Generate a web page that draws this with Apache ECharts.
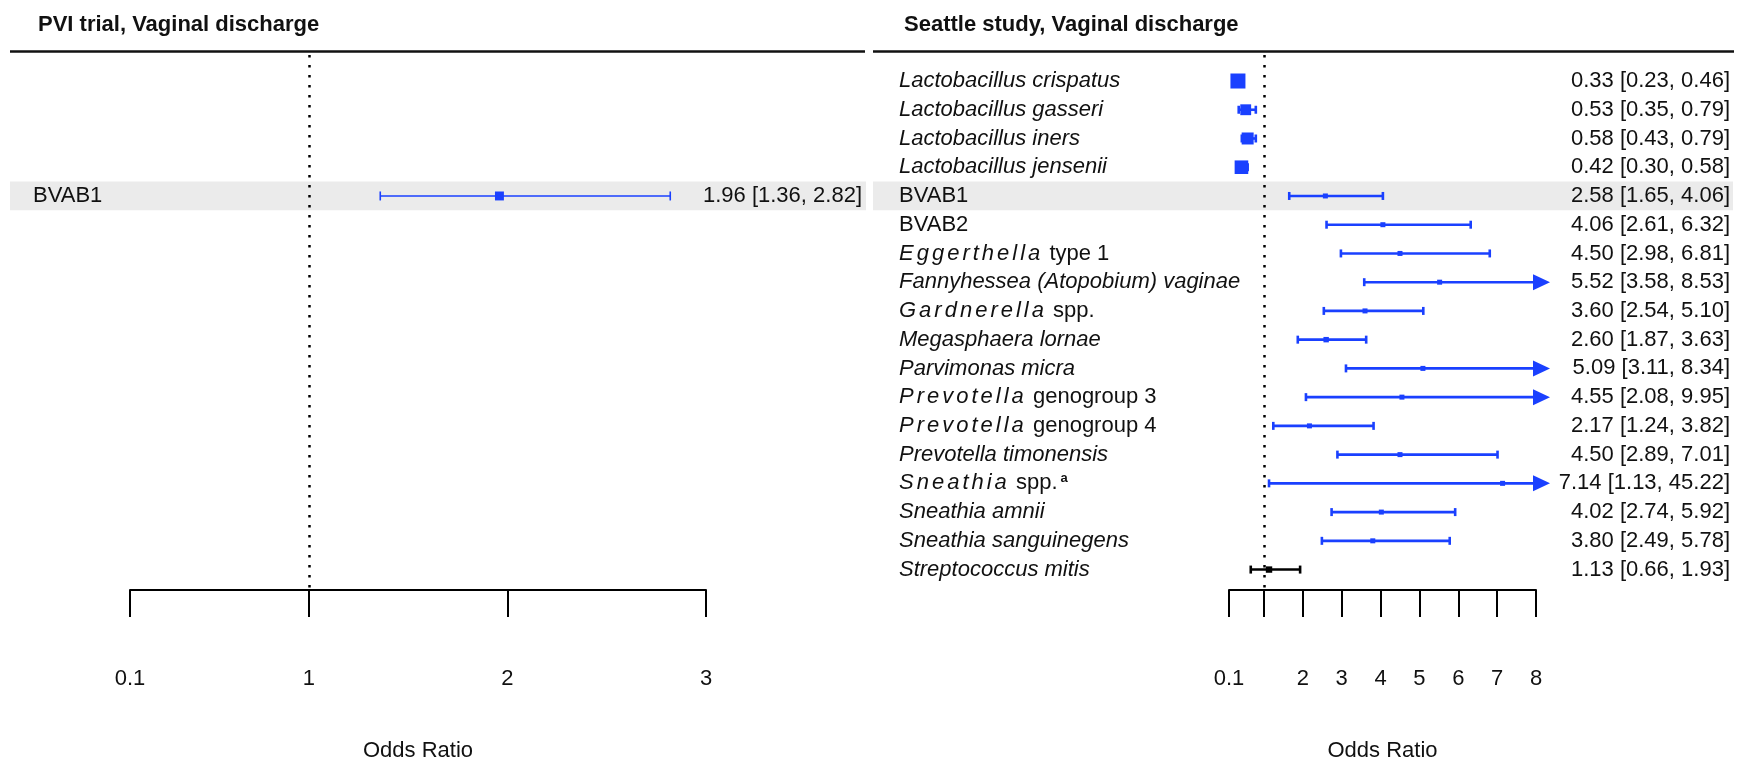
<!DOCTYPE html>
<html>
<head>
<meta charset="utf-8">
<script src="https://cdn.jsdelivr.net/npm/echarts@6/dist/echarts.min.js"></script>
<style>
html,body{margin:0;padding:0;background:#ffffff;}
#chart{width:1745px;height:760px;}
</style>
</head>
<body>
<div id="chart"></div>
<script>
// ---------------- DATA ----------------
const pviTitle = 'PVI trial, Vaginal discharge';
const seattleTitle = 'Seattle study, Vaginal discharge';
const axisTitle = 'Odds Ratio';

const pviCategories = ['BVAB1'];
const pviFormat = ['plain'];
const pviNotes = [''];
const pviOR = [1.96];
const pviLower = [1.36];
const pviUpper = [2.82];
const pviRows = [4];   // row position, aligned with the Seattle panel

const seattleCategories = [
  'Lactobacillus crispatus', 'Lactobacillus gasseri', 'Lactobacillus iners', 'Lactobacillus jensenii',
  'BVAB1', 'BVAB2', 'Eggerthella type 1', 'Fannyhessea (Atopobium) vaginae', 'Gardnerella spp.',
  'Megasphaera lornae', 'Parvimonas micra', 'Prevotella genogroup 3', 'Prevotella genogroup 4',
  'Prevotella timonensis', 'Sneathia spp.', 'Sneathia amnii', 'Sneathia sanguinegens', 'Streptococcus mitis'
];
const seattleFormat = [
  'italic', 'italic', 'italic', 'italic', 'plain', 'plain', 'genus', 'italic', 'genus',
  'italic', 'italic', 'genus', 'genus', 'italic', 'genus', 'italic', 'italic', 'italic'
];
const seattleNotes = ['', '', '', '', '', '', '', '', '', '', '', '', '', '', 'a', '', '', ''];
const seattleOR    = [0.33, 0.53, 0.58, 0.42, 2.58, 4.06, 4.50, 5.52, 3.60, 2.60, 5.09, 4.55, 2.17, 4.50, 7.14, 4.02, 3.80, 1.13];
const seattleLower = [0.23, 0.35, 0.43, 0.30, 1.65, 2.61, 2.98, 3.58, 2.54, 1.87, 3.11, 2.08, 1.24, 2.89, 1.13, 2.74, 2.49, 0.66];
const seattleUpper = [0.46, 0.79, 0.79, 0.58, 4.06, 6.32, 6.81, 8.53, 5.10, 3.63, 8.34, 9.95, 3.82, 7.01, 45.22, 5.92, 5.78, 1.93];
const seattleRows  = [0, 1, 2, 3, 4, 5, 6, 7, 8, 9, 10, 11, 12, 13, 14, 15, 16, 17];

const sharedRowName = 'BVAB1';

const pviTicks = [0.1, 1, 2, 3];
const pviTickLabels = ['0.1', '1', '2', '3'];
const seattleTicks = [0.1, 1, 2, 3, 4, 5, 6, 7, 8];
const seattleTickLabels = ['0.1', '', '2', '3', '4', '5', '6', '7', '8'];

// ---------------- STYLE / LAYOUT ----------------
const FONT = '"Liberation Sans", Arial, Helvetica, sans-serif';
const FS = 22;
const TXT = '#111111';
const BLUE = '#1a40ff';
const BAND = '#ebebeb';

const panels = [
  {
    cats: pviCategories, fmt: pviFormat, notes: pviNotes, or: pviOR, lo: pviLower, hi: pviUpper, rows: pviRows,
    ticks: pviTicks, tickLabels: pviTickLabels, min: 0.1, max: 3,
    gridLeft: 130, gridRight: 1745 - 706,
    textX: 33, valueX: 862, bandX0: 10, bandX1: 866,
    lineW: 1.6, capH: 9, boxK: 10.8
  },
  {
    cats: seattleCategories, fmt: seattleFormat, notes: seattleNotes, or: seattleOR, lo: seattleLower, hi: seattleUpper, rows: seattleRows,
    ticks: seattleTicks, tickLabels: seattleTickLabels, min: 0.1, max: 8,
    gridLeft: 1229, gridRight: 1745 - 1536,
    textX: 899, valueX: 1730, bandX0: 873, bandX1: 1733,
    lineW: 2.6, capH: 8, boxK: 7.2
  }
];

const ROW_MIN = -0.905, ROW_MAX = 17.711;

const rich = {
  r: { fontFamily: FONT, fontSize: FS, color: TXT },
  i: { fontFamily: FONT, fontSize: FS, color: TXT, fontStyle: 'italic' },
  g: { fontFamily: FONT, fontSize: FS, color: TXT, fontStyle: 'italic', padding: [0, 3.0, 0, 0] },
  sup: { fontFamily: FONT, fontSize: 13, color: TXT, fontWeight: 'bold', verticalAlign: 'top', padding: [0, 0, 0, 3] }
};

function labelMarkup(name, fmt, note) {
  let s;
  if (fmt === 'italic') s = '{i|' + name + '}';
  else if (fmt === 'plain') s = '{r|' + name + '}';
  else {
    const sp = name.indexOf(' ');
    const genus = name.slice(0, sp);
    s = genus.split('').map(c => '{g|' + c + '}').join('') + '{r|' + name.slice(sp) + '}';
  }
  if (note) s += '{sup|' + note + '}';
  return s;
}

function fmt2(v) { return v.toFixed(2); }

function makeRender(p) {
  return function (params, api) {
    const i = params.dataIndex;
    const or = p.or[i], lo = p.lo[i], hi = p.hi[i], row = p.rows[i];
    const y = api.coord([p.min, row])[1];
    const xLo = api.coord([Math.max(lo, p.min), row])[0];
    const truncated = hi > p.max;
    const xMax = api.coord([p.max, row])[0];
    const xHi = truncated ? xMax - 3 : api.coord([hi, row])[0];
    const xOr = api.coord([or, row])[0];
    const col = (lo <= 1 && hi >= 1) ? '#000000' : BLUE;
    const box = Math.max(5, p.boxK * Math.sqrt(1 / (hi - lo)));
    const children = [];
    children.push({
      type: 'text', x: p.textX, y: y,
      style: { text: labelMarkup(p.cats[i], p.fmt[i], p.notes[i]), rich: rich, verticalAlign: 'middle', align: 'left', fontFamily: FONT, fontSize: FS, fill: TXT }
    });
    children.push({
      type: 'text', x: p.valueX, y: y,
      style: { text: fmt2(or) + ' [' + fmt2(lo) + ', ' + fmt2(hi) + ']', align: 'right', verticalAlign: 'middle', fontFamily: FONT, fontSize: FS, fill: TXT }
    });
    children.push({ type: 'line', shape: { x1: xLo, y1: y, x2: xHi, y2: y }, style: { stroke: col, lineWidth: p.lineW } });
    children.push({ type: 'line', shape: { x1: xLo, y1: y - p.capH / 2, x2: xLo, y2: y + p.capH / 2 }, style: { stroke: col, lineWidth: p.lineW } });
    if (truncated) {
      children.push({ type: 'polygon', shape: { points: [[xMax - 3, y - 8], [xMax + 14, y], [xMax - 3, y + 8]] }, style: { fill: col } });
    } else {
      children.push({ type: 'line', shape: { x1: xHi, y1: y - p.capH / 2, x2: xHi, y2: y + p.capH / 2 }, style: { stroke: col, lineWidth: p.lineW } });
    }
    children.push({ type: 'rect', shape: { x: xOr - box / 2, y: y - box / 2, width: box, height: box }, style: { fill: col } });
    return { type: 'group', children: children };
  };
}

function makeBandRender(p) {
  return function (params, api) {
    const i = params.dataIndex;
    if (p.cats[i] !== sharedRowName) return null;
    const row = p.rows[i];
    const y = api.coord([p.min, row])[1];
    const h = api.size([0, 1])[1];
    return { type: 'rect', shape: { x: p.bandX0, y: y - h / 2, width: p.bandX1 - p.bandX0, height: h }, style: { fill: BAND } };
  };
}

const grids = panels.map(p => ({ left: p.gridLeft, right: p.gridRight, top: 55, bottom: 170, containLabel: false, outerBoundsMode: 'none' }));

const xAxes = panels.map((p, k) => ({
  gridIndex: k, type: 'value', min: p.min, max: p.max, position: 'bottom',
  axisLine: { show: true, onZero: false, lineStyle: { color: '#000', width: 2 } },
  axisTick: { show: true, length: 27, customValues: p.ticks, lineStyle: { color: '#000', width: 2 } },
  axisLabel: {
    show: true, customValues: p.ticks, margin: 78, fontFamily: FONT, fontSize: FS, color: TXT,
    showMinLabel: true, showMaxLabel: true, hideOverlap: false,
    formatter: function (v) {
      const j = p.ticks.findIndex(t => Math.abs(t - v) < 1e-9);
      return j >= 0 ? p.tickLabels[j] : '';
    }
  },
  splitLine: { show: false },
  name: axisTitle, nameLocation: 'middle', nameGap: 150, nameMoveOverlap: false,
  nameTextStyle: { fontFamily: FONT, fontSize: FS, color: TXT }
}));

const yAxes = panels.map((p, k) => ({
  gridIndex: k, type: 'value', inverse: true, min: ROW_MIN, max: ROW_MAX, show: false
}));

const series = [];
panels.forEach((p, k) => {
  const data = p.or.map((v, i) => [v, p.lo[i], p.hi[i], p.rows[i]]);
  series.push({
    type: 'custom', xAxisIndex: k, yAxisIndex: k, z: 1, silent: true,
    renderItem: makeBandRender(p), data: data, encode: { x: 0, y: 3 }, clip: false
  });
  series.push({
    type: 'scatter', xAxisIndex: k, yAxisIndex: k, z: 2, silent: true, data: [],
    markLine: {
      silent: true, symbol: 'none', label: { show: false },
      lineStyle: { color: '#000', width: 2.5, type: [2.5, 7.5] },
      data: [{ xAxis: 1 }]
    }
  });
  series.push({
    type: 'custom', xAxisIndex: k, yAxisIndex: k, z: 3, silent: true,
    renderItem: makeRender(p), data: data, encode: { x: 0, y: 3 }, clip: false
  });
});

const chart = echarts.init(document.getElementById('chart'), null, { renderer: 'canvas' });
chart.setOption({
  animation: false,
  backgroundColor: '#ffffff',
  title: [
    { text: pviTitle, left: 33, top: 9, textStyle: { fontFamily: FONT, fontSize: FS, fontWeight: 'bold', color: TXT } },
    { text: seattleTitle, left: 899, top: 9, textStyle: { fontFamily: FONT, fontSize: FS, fontWeight: 'bold', color: TXT } }
  ],
  graphic: [
    { type: 'line', shape: { x1: 10, y1: 51.5, x2: 865, y2: 51.5 }, style: { stroke: '#111', lineWidth: 2.5 } },
    { type: 'line', shape: { x1: 873, y1: 51.5, x2: 1734, y2: 51.5 }, style: { stroke: '#111', lineWidth: 2.5 } }
  ],
  grid: grids,
  xAxis: xAxes,
  yAxis: yAxes,
  series: series
});
</script>
</body>
</html>
